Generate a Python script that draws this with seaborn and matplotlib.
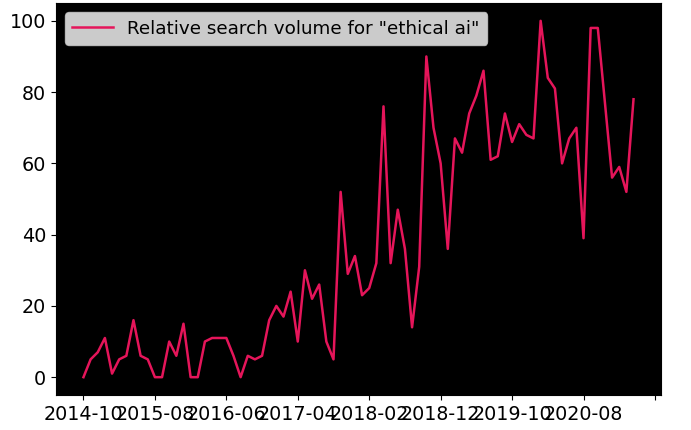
import matplotlib
matplotlib.use("Agg")
import matplotlib.pyplot as plt
import seaborn as sns
import pandas as pd

start_month = "2014-10"
n_months = 78
months = [str(p) for p in pd.period_range(start_month, periods=n_months, freq="M")]

values = [0, 5, 7, 11, 1, 5, 6, 16, 6, 5,
          0, 0, 10, 6, 15, 0, 0, 10, 11, 11,
          11, 6, 0, 6, 5, 6, 16, 20, 17, 24,
          10, 30, 22, 26, 10, 5, 52, 29, 34, 23,
          25, 32, 76, 32, 47, 36, 14, 31, 90, 70,
          60, 36, 67, 63, 74, 79, 86, 61, 62, 74,
          66, 71, 68, 67, 100, 84, 81, 60, 67, 70,
          39, 98, 98, 77, 56, 59, 52, 78]

label = 'Relative search volume for "ethical ai"'
tick_step = 10

df = pd.DataFrame({"month": months, "volume": values})

plt.rcParams["font.family"] = ["DejaVu Sans"]
fig, ax = plt.subplots(figsize=(6.91, 4.30), dpi=100)
fig.patch.set_facecolor("white")
ax.set_facecolor("black")

sns.lineplot(data=df, x="month", y="volume", ax=ax, color="#E5155A",
             linewidth=1.8, label=label, sort=False)

tick_pos = list(range(0, n_months + 3, tick_step))
ax.set_xticks(tick_pos)
ax.set_xticklabels([months[i] if i < n_months else "" for i in tick_pos])
ax.set_xlabel("")
ax.set_ylabel("")
ax.tick_params(labelsize=13.8)
ax.set_yticks([0, 20, 40, 60, 80, 100])

ax.legend(loc="upper left", fontsize=13.2, handlelength=2.2)

fig.subplots_adjust(left=0.081, right=0.9566, top=0.993, bottom=0.0814)
fig.savefig("out.png", dpi=100)
